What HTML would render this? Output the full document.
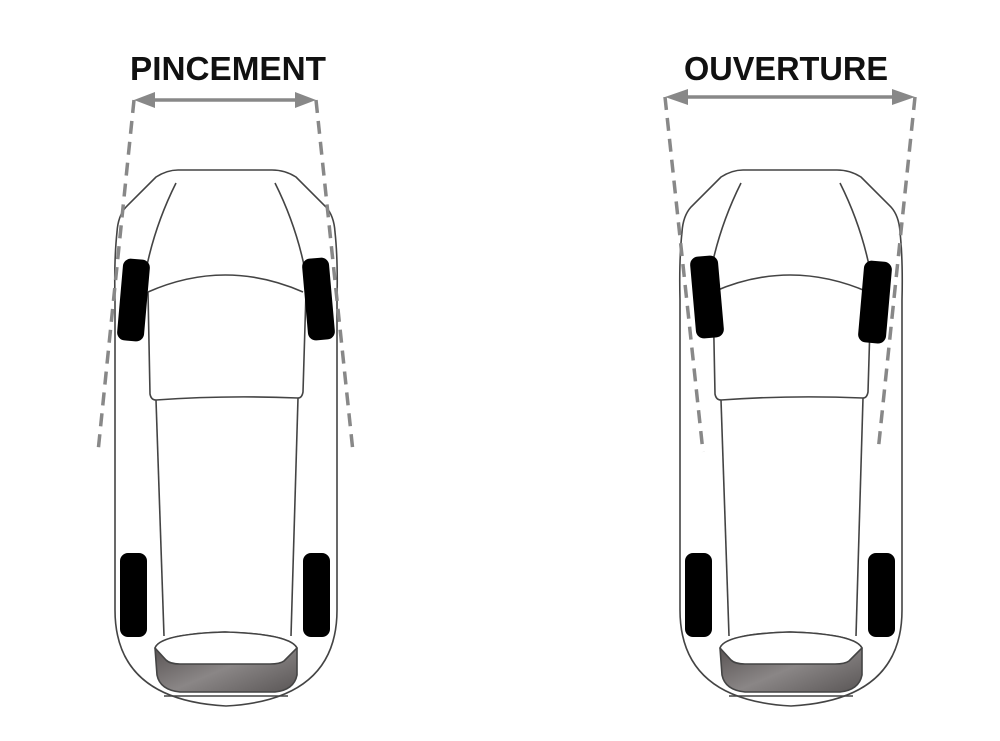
<!DOCTYPE html>
<html><head><meta charset="utf-8"><style>
html,body{margin:0;padding:0;background:#fff;}
svg{display:block}
text{font-family:"Liberation Sans",sans-serif;font-weight:bold;font-size:33px;fill:#111;text-anchor:middle}
</style></head><body>
<svg width="1000" height="741" viewBox="0 0 1000 741" xmlns="http://www.w3.org/2000/svg">
<defs>
<linearGradient id="g" x1="0" y1="0" x2="1" y2="1">
<stop offset="0" stop-color="#4a4444"/><stop offset="0.55" stop-color="#8a8686"/><stop offset="1" stop-color="#5a5656"/>
</linearGradient>
<g id="car" fill="none" stroke="#444" stroke-width="1.6">
<path d="M178,170 L272,170 Q285,170 296,177 L326,207 Q334,216 335,232 Q338,260 337,300 L337,610 Q337,700 226,706 Q115,700 115,610 L115,300 Q114,260 117,232 Q118,216 126,207 L156,177 Q167,170 178,170 Z" fill="#fff"/>
<path d="M176,183 Q155,225 146,270"/>
<path d="M275,183 Q296,225 305,270"/>
<path d="M148,292 Q225,258 303,292"/>
<path d="M148,292 L150,394 Q151,400 156,400 Q225,395 298,398 Q302,398 303,392 L306,292"/>
<path d="M156,400 L164,636"/>
<path d="M298,398 L291,636"/>
<path d="M155,648 Q160,634 225,632 Q290,634 297,648 L297,675 Q294,690 275,692 L180,692 Q160,690 157,675 Z" fill="url(#g)"/>
<path d="M155,648 Q160,634 225,632 Q290,634 297,648 L284,661 Q280,664 270,664 L180,664 Q170,664 166,660 Z" fill="#fff"/>
<path d="M164,696 L288,696"/>
<rect x="120" y="553" width="27" height="84" rx="8" fill="#000" stroke="none"/>
<rect x="303" y="553" width="27" height="84" rx="8" fill="#000" stroke="none"/>
</g>
</defs>
<use href="#car"/>
<rect x="120" y="259" width="27" height="82" rx="8" fill="#000" transform="rotate(5 133 300)"/>
<rect x="305" y="258" width="27" height="82" rx="8" fill="#000" transform="rotate(-5 319 299)"/>
<g stroke="#888" stroke-width="3.5" fill="none" stroke-dasharray="13,8">
<path d="M134,100 L98,452"/><path d="M316,100 L353,452"/>
</g>
<g stroke="#888" stroke-width="3.5"><path d="M148,100 L302,100"/></g>
<path d="M134,100 L155,92 L155,108 Z M316,100 L295,92 L295,108 Z" fill="#888"/>
<text x="228" y="80" textLength="196" lengthAdjust="spacingAndGlyphs">PINCEMENT</text>
<use href="#car" transform="translate(565,0)"/>
<rect x="693" y="256" width="28" height="82" rx="8" fill="#000" transform="rotate(-5 707 297)"/>
<rect x="861" y="261" width="28" height="82" rx="8" fill="#000" transform="rotate(5 874 302)"/>
<g stroke="#888" stroke-width="3.5" fill="none" stroke-dasharray="13,8">
<path d="M665,97 L703,452"/><path d="M915,97 L878,452"/>
</g>
<g stroke="#888" stroke-width="3.5"><path d="M680,97 L900,97"/></g>
<path d="M665,97 L688,89 L688,105 Z M915,97 L892,89 L892,105 Z" fill="#888"/>
<text x="786" y="80" textLength="204" lengthAdjust="spacingAndGlyphs">OUVERTURE</text>
</svg>
</body></html>
